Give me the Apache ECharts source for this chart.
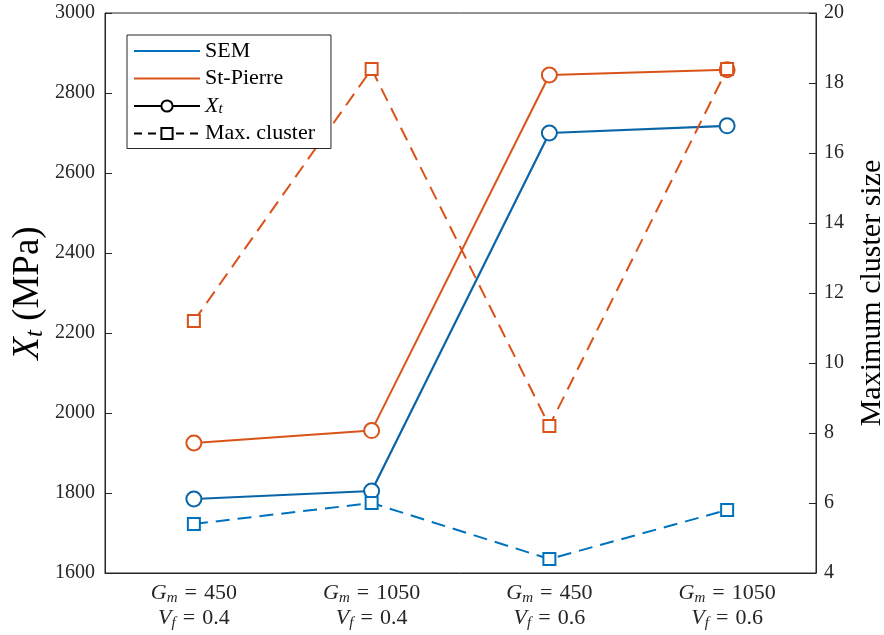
<!DOCTYPE html>
<html>
<head>
<meta charset="utf-8">
<script src="https://cdn.jsdelivr.net/npm/echarts@6/dist/echarts.min.js"></script>
<style>
  html, body { margin: 0; padding: 0; background: #fff; }
  #main { width: 884px; height: 635px; }
</style>
</head>
<body>
<div id="main"></div>
<script>
// categories (G_m, V_f)
var gmVals = ['450', '1050', '450', '1050'];
var vfVals = ['0.4', '0.4', '0.6', '0.6'];
// X_t (MPa), left axis
var xtSEM = [1785, 1805, 2700, 2718];
var xtStPierre = [1925, 1956, 2845, 2858];
// max cluster size, right axis
var clusterSEM = [5.4, 6.0, 4.4, 5.8];
var clusterStPierre = [11.2, 18.4, 8.2, 18.4];

var blue = '#0072BD';
var blueDark = '#0a64a8';
var orange = '#D95319';
var axisCol = '#262626';
var font = 'Liberation Serif';

var cats = gmVals.map(function (g, i) { return g + '|' + vfVals[i]; });

var myChart = echarts.init(document.getElementById('main'));

var option = {
  backgroundColor: '#fff',
  animation: false,
  grid: {
    left: 105, right: 68, top: 13, bottom: 62,
    outerBoundsMode: 'none', containLabel: false,
    show: true, borderColor: axisCol, borderWidth: 1, backgroundColor: 'transparent'
  },
  legend: {
    orient: 'vertical',
    left: 127, top: 35,
    padding: [5, 16, 4, 6],
    itemWidth: 66, itemHeight: 14, itemGap: 5.5,
    borderColor: axisCol, borderWidth: 1, backgroundColor: '#fff',
    data: [
      { name: 'SEM', itemStyle: { color: 'transparent', borderColor: 'transparent', borderWidth: 0 } },
      { name: 'St-Pierre', itemStyle: { color: 'transparent', borderColor: 'transparent', borderWidth: 0 } },
      'X_t',
      'Max. cluster'
    ],
    formatter: function (name) {
      if (name === 'X_t') return '{i|X}{s|t}';
      return '{n|' + name + '}';
    },
    textStyle: {
      fontFamily: font, fontSize: 22, color: '#000', lineHeight: 22,
      rich: {
        n: { fontFamily: font, fontSize: 22, color: '#000', lineHeight: 22 },
        i: { fontFamily: font, fontSize: 22, fontStyle: 'italic', color: '#000', lineHeight: 22 },
        s: { fontFamily: font, fontSize: 15, fontStyle: 'italic', color: '#000', lineHeight: 22, verticalAlign: 'bottom', padding: [6, 0, 0, 0] }
      }
    }
  },
  xAxis: {
    type: 'category',
    data: cats,
    boundaryGap: true,
    axisLine: { lineStyle: { color: axisCol, width: 1 } },
    axisTick: { inside: true, alignWithLabel: true, length: 7, lineStyle: { color: axisCol } },
    axisLabel: {
      margin: 8,
      lineHeight: 25,
      formatter: function (v) {
        var p = v.split('|');
        return '{i|G}{s|m}{e|=}{n|' + p[0] + '}\n{i|V}{s|f}{e|=}{n|' + p[1] + '}';
      },
      rich: {
        i: { fontFamily: font, fontSize: 22, fontStyle: 'italic', color: axisCol },
        s: { fontFamily: font, fontSize: 15, fontStyle: 'italic', color: axisCol, verticalAlign: 'bottom', padding: [9, 0, 0, 0] },
        e: { fontFamily: font, fontSize: 22, color: axisCol, padding: [0, 7, 0, 7] },
        n: { fontFamily: font, fontSize: 22, color: axisCol }
      }
    },
    splitLine: { show: false }
  },
  yAxis: [
    {
      type: 'value', min: 1600, max: 3000, interval: 200, position: 'left',
      name: '{i|X}{s|t}{n| (MPa)}',
      nameLocation: 'middle', nameGap: 57, nameMoveOverlap: false,
      nameTextStyle: {
        rich: {
          i: { fontFamily: font, fontSize: 37, fontStyle: 'italic', color: '#000' },
          s: { fontFamily: font, fontSize: 25, fontStyle: 'italic', color: '#000', verticalAlign: 'bottom', padding: [14, 0, 0, 0] },
          n: { fontFamily: font, fontSize: 37, color: '#000' }
        }
      },
      axisLine: { show: true, lineStyle: { color: axisCol } },
      axisTick: { show: true, inside: true, length: 7, lineStyle: { color: axisCol } },
      axisLabel: {
        fontFamily: font, fontSize: 20, color: axisCol, margin: 10,
        formatter: function (v) { return String(v); }
      },
      splitLine: { show: false }
    },
    {
      type: 'value', min: 4, max: 20, interval: 2, position: 'right',
      name: 'Maximum cluster size',
      nameLocation: 'middle', nameGap: 41,
      nameTextStyle: { fontFamily: font, fontSize: 30, color: '#000' },
      axisLine: { show: true, lineStyle: { color: axisCol } },
      axisTick: { show: true, inside: true, length: 7, lineStyle: { color: axisCol } },
      axisLabel: { fontFamily: font, fontSize: 20, color: axisCol, margin: 8 },
      splitLine: { show: false }
    }
  ],
  series: [
    // legend-only entries
    { name: 'SEM', type: 'line', data: [], symbol: 'none', itemStyle: { color: blue }, lineStyle: { color: blue, width: 2 } },
    { name: 'St-Pierre', type: 'line', data: [], symbol: 'none', itemStyle: { color: orange }, lineStyle: { color: orange, width: 2 } },
    { name: 'X_t', type: 'line', data: [], symbol: 'emptyCircle', itemStyle: { color: '#000', borderWidth: 2 }, lineStyle: { color: '#000', width: 2 } },
    { name: 'Max. cluster', type: 'line', data: [], symbol: 'emptyRect', itemStyle: { color: '#000', borderWidth: 2 }, lineStyle: { color: '#000', width: 2, type: [8, 6] } },
    // data
    {
      name: 'SEM Xt', type: 'line', yAxisIndex: 0, data: xtSEM,
      symbol: 'emptyCircle', symbolSize: 15,
      itemStyle: { color: blueDark, borderWidth: 2.5 },
      lineStyle: { color: blueDark, width: 2.2 }
    },
    {
      name: 'St-Pierre Xt', type: 'line', yAxisIndex: 0, data: xtStPierre,
      symbol: 'emptyCircle', symbolSize: 15,
      itemStyle: { color: orange, borderWidth: 2 },
      lineStyle: { color: orange, width: 2 }
    },
    {
      name: 'SEM cluster', type: 'line', yAxisIndex: 1, data: clusterSEM,
      symbol: 'emptyRect', symbolSize: 12,
      itemStyle: { color: blue, borderWidth: 2 },
      lineStyle: { color: blue, width: 2, type: [14, 8] }
    },
    {
      name: 'St-Pierre cluster', type: 'line', yAxisIndex: 1, data: clusterStPierre,
      symbol: 'emptyRect', symbolSize: 12,
      itemStyle: { color: orange, borderWidth: 2 },
      lineStyle: { color: orange, width: 2, type: [14, 8] }
    }
  ]
};

myChart.setOption(option);
</script>
</body>
</html>
